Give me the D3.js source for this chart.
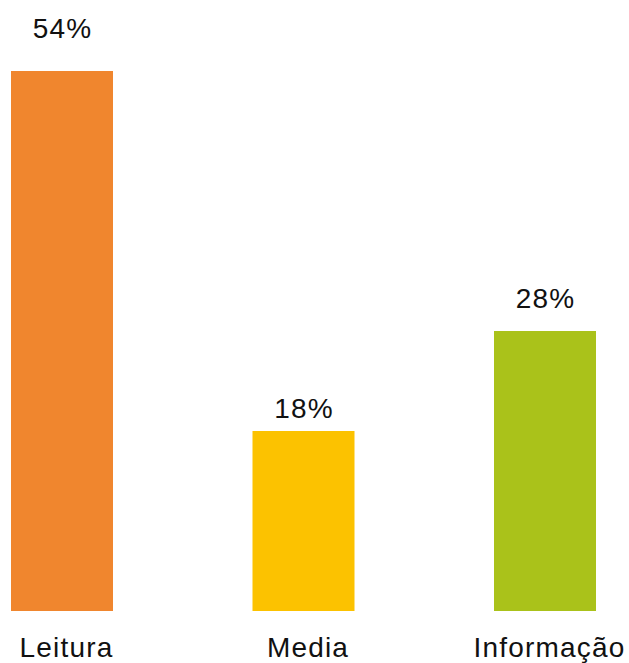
<!DOCTYPE html>
<html>
<head>
<meta charset="utf-8">
<script src="https://cdn.jsdelivr.net/npm/d3@7/dist/d3.min.js"></script>
<style>
  html, body { margin: 0; padding: 0; background: #fff; }
  svg { display: block; }
  text { font-family: "Liberation Sans", Arial, Helvetica, sans-serif; fill: #111; }
</style>
</head>
<body>
<div id="chart"></div>
<script>
// Share of each theme, in percent
const categories = ["Leitura", "Media", "Informação"];
const values = [54, 18, 28];
const valueLabels = ["54%", "18%", "28%"];
const colors = ["#F0862E", "#FCC200", "#AAC21A"];

const width = 629, height = 663;
const baseY = 611, topY = 71;
const barWidth = 102;
// vertical gap between each value label's baseline and its bar top
const labelLift = [33, 13, 23];

const svg = d3.select("#chart").append("svg")
  .attr("width", width)
  .attr("height", height);

const x = d3.scalePoint()
  .domain(categories)
  .range([62, 545]);

const y = d3.scaleLinear()
  .domain([0, d3.max(values)])
  .range([baseY, topY]);

const rows = categories.map((c, i) => ({ c, v: values[i], label: valueLabels[i], color: colors[i], lift: labelLift[i] }));

svg.selectAll("rect.bar")
  .data(rows)
  .join("rect")
  .attr("class", "bar")
  .attr("x", d => x(d.c) - barWidth / 2)
  .attr("y", d => y(d.v))
  .attr("width", barWidth)
  .attr("height", d => y(0) - y(d.v))
  .attr("fill", d => d.color);

svg.selectAll("text.value")
  .data(rows)
  .join("text")
  .attr("class", "value")
  .attr("x", d => x(d.c) + 0.6)
  .attr("y", d => y(d.v) - d.lift)
  .attr("text-anchor", "middle")
  .style("font-size", "28px")
  .style("letter-spacing", "1.2px")
  .text(d => d.label);

// category labels along the bottom
const axis = d3.axisBottom(x).tickSize(0).tickPadding(0);
const gAxis = svg.append("g")
  .attr("transform", `translate(0, ${baseY})`)
  .call(axis);
gAxis.select(".domain").remove();
gAxis.selectAll("text")
  .attr("y", 46)
  .attr("dy", 0)
  .attr("x", 4)
  .style("font-size", "28px")
  .style("letter-spacing", "1.2px")
  .style("font-family", "'Liberation Sans', Arial, Helvetica, sans-serif")
  .attr("fill", "#111");
</script>
</body>
</html>
